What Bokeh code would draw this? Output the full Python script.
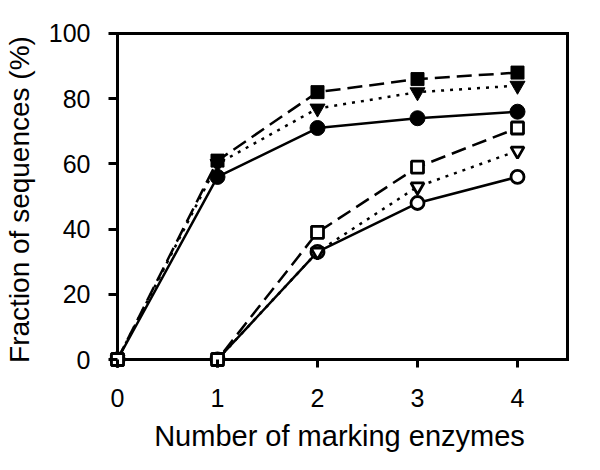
from bokeh.plotting import figure
from bokeh.models import Range1d, FixedTicker
from bokeh.embed import file_html
from bokeh.resources import INLINE

# Data
enzymes = [0, 1, 2, 3, 4]
filled_square = [0, 61, 82, 86, 88]
filled_triangle = [0, 60, 77, 82, 84]
filled_circle = [0, 56, 71, 74, 76]
open_square = [0, 0, 39, 59, 71]
open_triangle = [0, 0, 33, 53, 64]
open_circle = [0, 0, 33, 48, 56]
x_ticks = [0, 1, 2, 3, 4]
y_ticks = [0, 20, 40, 60, 80, 100]
x_max = 4.5

FONT = "Liberation Sans"

p = figure(width=584, height=454, output_backend="svg", toolbar_location=None,
           x_range=Range1d(-0.08, 4.52), y_range=Range1d(-2.45, 100.6),
           min_border_left=108, min_border_right=15, min_border_top=31, min_border_bottom=87)
p.grid.visible = False
p.background_fill_color = "white"
p.border_fill_color = "white"
p.outline_line_color = None

for ax in (p.xaxis[0], p.yaxis[0]):
    ax.axis_line_color = None
    ax.major_tick_line_width = 3
    ax.major_tick_line_color = "black"
    ax.minor_tick_line_color = None
    ax.major_label_text_font = FONT
    ax.major_label_text_font_size = "25px"
    ax.major_label_text_color = "black"
    ax.axis_label_text_font = FONT
    ax.axis_label_text_font_style = "normal"
    ax.axis_label_text_color = "black"

p.xaxis[0].ticker = FixedTicker(ticks=x_ticks)
p.yaxis[0].ticker = FixedTicker(ticks=y_ticks)
p.xaxis[0].major_tick_in = 8
p.xaxis[0].major_tick_out = 0
p.yaxis[0].major_tick_in = 8
p.yaxis[0].major_tick_out = 1
p.xaxis[0].major_label_standoff = 21
p.yaxis[0].major_label_standoff = 18
p.xaxis[0].axis_label = "Number of marking enzymes"
p.yaxis[0].axis_label = "Fraction of sequences (%)"
p.xaxis[0].axis_label_text_font_size = "29px"
p.yaxis[0].axis_label_text_font_size = "28px"
p.xaxis[0].axis_label_standoff = 10
p.yaxis[0].axis_label_standoff = 11

# box: axes lines at the data origin plus top and right borders
p.segment(x0=[0, 0, 0, x_max], y0=[y_ticks[0], y_ticks[0], y_ticks[-1], y_ticks[0]],
          x1=[0, x_max, x_max, x_max], y1=[y_ticks[-1], y_ticks[0], y_ticks[-1], y_ticks[-1]],
          line_color="black", line_width=3, line_cap="square")

LW = 2.5
DASH = "15 7"
DOT = "3 6"

# filled series
p.line(enzymes, filled_circle, line_color="black", line_width=LW)
p.line(enzymes, filled_triangle, line_color="black", line_width=LW, line_dash=DOT)
p.line(enzymes, filled_square, line_color="black", line_width=LW, line_dash=DASH)
# open series
p.line(enzymes, open_circle, line_color="black", line_width=LW)
p.line(enzymes, open_triangle, line_color="black", line_width=LW, line_dash=DOT)
p.line(enzymes, open_square, line_color="black", line_width=LW, line_dash=DASH)

p.scatter(enzymes, filled_circle, marker="circle", size=15, fill_color="black", line_color="black")
p.scatter(enzymes, filled_triangle, marker="inverted_triangle", size=15, fill_color="black", line_color="black")
p.scatter(enzymes, filled_square, marker="square", size=13, fill_color="black", line_color="black")
p.scatter(enzymes, open_circle, marker="circle", size=13, fill_color="white", line_color="black", line_width=2.8)
p.scatter(enzymes, open_triangle, marker="inverted_triangle", size=13, fill_color="white", line_color="black", line_width=2.8)
p.scatter(enzymes, open_square, marker="square", size=12, fill_color="white", line_color="black", line_width=2.8)

open("out.html", "w").write(file_html(p, INLINE))
